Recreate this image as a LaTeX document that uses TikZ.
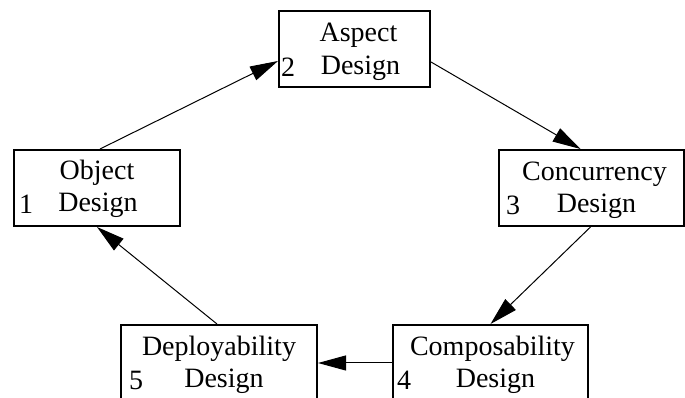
\documentclass[tikz,border=0pt]{standalone}
\usepackage{fontspec}
\setmainfont{Liberation Serif}
\usetikzlibrary{arrows.meta}
\begin{document}
\begin{tikzpicture}[x=1pt,y=1pt,
  stage/.style={draw, line width=2pt, inner sep=0pt, minimum height=76pt},
  txt/.style={font=\fontsize{28}{32}\selectfont, inner sep=0pt, anchor=base},
  num/.style={font=\fontsize{28}{32}\selectfont, inner sep=0pt, anchor=base west},
  flow/.style={line width=1pt, -{Triangle[length=28pt,width=15pt]}}]
\useasboundingbox (0,0) rectangle (685,398);

% stage boxes
\node[stage, minimum width=151pt] (asp) at (354.5,349) {};
\node[stage, minimum width=166pt] (obj) at (97,210) {};
\node[stage, minimum width=185pt] (con) at (591.5,210) {};
\node[stage, minimum width=196pt] (dep) at (219,35) {};
\node[stage, minimum width=195pt] (com) at (490.5,35) {};

% labels
\node[txt] (aspA) at ([xshift=4pt,yshift=-32pt]asp.north) {Aspect};
\node[txt] (aspB) at ([xshift=6pt,yshift=-65pt]asp.north) {Design};
\node[num] (aspN) at ([xshift=3pt,yshift=-67pt]asp.north west) {2};

\node[txt] (objA) at ([yshift=-31pt]obj.north) {Object};
\node[txt] (objB) at ([xshift=1pt,yshift=-63pt]obj.north) {Design};
\node[num] (objN) at ([xshift=6pt,yshift=-65pt]obj.north west) {1};

\node[txt] (conA) at ([xshift=3pt,yshift=-32pt]con.north) {Concurrency};
\node[txt] (conB) at ([xshift=5pt,yshift=-64pt]con.north) {Design};
\node[num] (conN) at ([xshift=8pt,yshift=-66pt]con.north west) {3};

\node[txt] (depA) at ([yshift=-32pt]dep.north) {Deployability};
\node[txt] (depB) at ([xshift=5pt,yshift=-64pt]dep.north) {Design};
\node[num] (depN) at ([xshift=9pt,yshift=-66pt]dep.north west) {5};

\node[txt] (comA) at ([xshift=2pt,yshift=-32pt]com.north) {Composability};
\node[txt] (comB) at ([xshift=5pt,yshift=-64pt]com.north) {Design};
\node[num] (comN) at ([xshift=5pt,yshift=-66pt]com.north west) {4};

% flow between stages
\draw[flow] ([xshift=3pt]obj.north) -- ([yshift=-12pt]asp.west);
\draw[flow] ([yshift=-13pt]asp.east) -- ([xshift=-11pt]con.north);
\draw[flow] ([xshift=-1pt]con.south) -- (com.north);
\draw[flow] (com.west) -- (dep.east);
\draw[flow] ([xshift=-2pt]dep.north) -- (obj.south);
\end{tikzpicture}
\end{document}
